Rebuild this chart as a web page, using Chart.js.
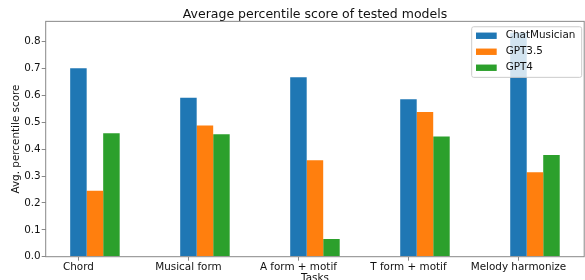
<!DOCTYPE html>
<html>
<head>
<meta charset="utf-8">
<script src="https://cdn.jsdelivr.net/npm/chart.js@4/dist/chart.umd.min.js"></script>
<style>
  html, body { margin: 0; padding: 0; background: #fff; }
</style>
</head>
<body>
<canvas id="chart" width="585" height="280"></canvas>
<script>
// data
const tasks = ['Chord', 'Musical form', 'A form + motif', 'T form + motif', 'Melody harmonize'];
const chatMusician = [0.701, 0.591, 0.667, 0.585, 0.833];
const gpt35 = [0.245, 0.488, 0.359, 0.538, 0.314];
const gpt4 = [0.459, 0.455, 0.066, 0.447, 0.378];
const yTicks = [0.0, 0.1, 0.2, 0.3, 0.4, 0.5, 0.6, 0.7, 0.8];

const FONT = '"DejaVu Sans", sans-serif';
const TEXT = '#111';
const LINE = '#888';

Chart.defaults.font.family = FONT;
Chart.defaults.font.size = 10.4;
Chart.defaults.color = TEXT;

function toPoints(values) {
    return tasks.map((t, i) => ({ x: i, y: values[i] }));
}

// axes frame on all four sides, drawn over the bars like matplotlib spines
const frame = {
    id: 'frame',
    afterDatasetsDraw(chart) {
        const { ctx, chartArea: ca } = chart;
        ctx.save();
        ctx.strokeStyle = LINE;
        ctx.lineWidth = 1;
        ctx.strokeRect(ca.left, ca.top, ca.right - ca.left, ca.bottom - ca.top);
        ctx.restore();
    }
};

// boxed legend in the upper right of the plot
const boxLegend = {
    id: 'boxLegend',
    afterDraw(chart) {
        const { ctx, chartArea: ca } = chart;
        const w = 110, h = 50.6;
        const x = ca.right - 2.5 - w, y = ca.top + 5.4;
        ctx.save();
        ctx.fillStyle = 'rgba(255,255,255,0.8)';
        ctx.strokeStyle = '#cccccc';
        ctx.lineWidth = 1;
        ctx.beginPath();
        ctx.roundRect(x, y, w, h, 2);
        ctx.fill();
        ctx.stroke();
        ctx.font = '10.4px ' + FONT;
        ctx.textBaseline = 'middle';
        chart.data.datasets.forEach((ds, i) => {
            const cy = y + 9 + i * 16;
            ctx.fillStyle = ds.backgroundColor;
            ctx.fillRect(x + 4.3, cy - 3.2, 20.7, 6.4);
            ctx.fillStyle = TEXT;
            ctx.fillText(ds.label, x + 34, cy);
        });
        ctx.restore();
    }
};

new Chart(document.getElementById('chart'), {
    type: 'bar',
    data: {
        datasets: [
            { label: 'ChatMusician', data: toPoints(chatMusician), backgroundColor: '#1f77b4' },
            { label: 'GPT3.5', data: toPoints(gpt35), backgroundColor: '#ff7f0e' },
            { label: 'GPT4', data: toPoints(gpt4), backgroundColor: '#2ca02c' }
        ]
    },
    options: {
        responsive: false,
        animation: false,
        categoryPercentage: 0.45,
        barPercentage: 1,
        layout: { padding: { left: 0, right: 0.8, top: 0, bottom: 0 } },
        plugins: {
            legend: { display: false },
            tooltip: { enabled: false },
            title: {
                display: true,
                fullSize: false, // centre over the plot, not the canvas
                text: 'Average percentile score of tested models',
                color: TEXT,
                font: { size: 12.5, weight: 'normal', lineHeight: 1.1 },
                padding: { top: 7.6, bottom: 0 }
            }
        },
        scales: {
            x: {
                type: 'linear',
                min: -0.4475,
                max: 4.4475,
                offset: false,
                // tick sits under the first bar of each group
                afterBuildTicks: s => { s.ticks = tasks.map((t, i) => ({ value: i - 0.15 })); },
                afterFit: s => { s.height = 23.3; },
                ticks: {
                    autoSkip: false,
                    maxRotation: 0,
                    padding: 0,
                    callback: (v, i) => tasks[i]
                },
                grid: { drawOnChartArea: false, drawTicks: true, tickLength: 4, tickColor: LINE, offset: false },
                border: { display: false },
                title: { display: true, text: 'Tasks', padding: { top: 0, bottom: -4.8 } }
            },
            y: {
                min: 0,
                max: 0.875,
                afterBuildTicks: s => { s.ticks = yTicks.map(v => ({ value: v })); },
                afterFit: s => { s.width = 45.7; },
                ticks: {
                    padding: 1,
                    callback: v => v.toFixed(1)
                },
                grid: { drawOnChartArea: false, drawTicks: true, tickLength: 4, tickColor: LINE },
                border: { display: false },
                title: { display: true, text: 'Avg. percentile score', padding: { top: 10, bottom: 0 } }
            }
        }
    },
    plugins: [frame, boxLegend]
});
</script>
</body>
</html>
